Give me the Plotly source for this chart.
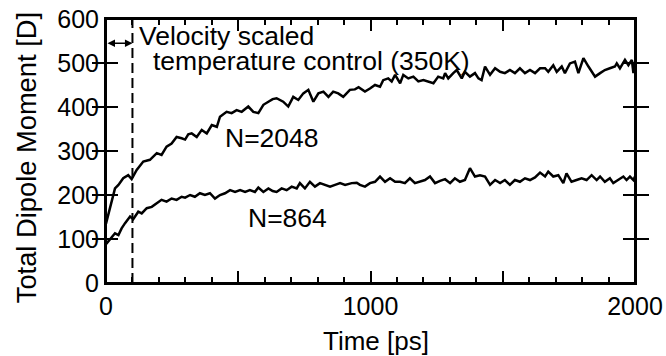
import plotly.graph_objects as go

# ---- data ----
t_2048 = [0, 34, 47, 65, 84, 97, 116, 141, 166, 192, 210, 229, 248, 267, 286, 299, 311, 324, 343,
          362, 381, 400, 419, 431, 456, 475, 494, 513, 538, 557, 576, 595, 614, 630, 645, 670, 689,
          708, 727, 746, 765, 784, 803, 822, 841, 859, 878, 897, 922, 941, 955, 979, 998, 1017,
          1036, 1048, 1067, 1080, 1093, 1112, 1124, 1143, 1162, 1181, 1200, 1219, 1238, 1256,
          1275, 1282, 1294, 1313, 1326, 1345, 1357, 1376, 1395, 1408, 1420, 1433, 1452, 1471,
          1490, 1508, 1527, 1546, 1565, 1584, 1603, 1622, 1641, 1660, 1672, 1691, 1704, 1723,
          1735, 1754, 1773, 1786, 1805, 1824, 1836, 1849, 1868, 1886, 1905, 1924, 1931, 1943,
          1962, 1975, 1988, 1994, 2000]
d_2048 = [135, 215, 223, 238, 245, 236, 257, 276, 280, 295, 291, 310, 317, 332, 329, 326, 338, 340, 332,
          348, 340, 359, 355, 378, 389, 386, 393, 389, 401, 389, 386, 405, 412, 418, 420, 412, 401,
          423, 416, 431, 439, 412, 431, 435, 423, 435, 431, 423, 439, 440, 445, 435, 442, 450,
          446, 461, 465, 458, 473, 454, 473, 465, 469, 458, 461, 458, 454, 469,
          465, 477, 465, 477, 484, 465, 480, 469, 477, 465, 461, 492, 473, 488,
          480, 477, 484, 477, 488, 477, 484, 477, 488, 488, 480, 495, 480, 492,
          477, 499, 503, 477, 511, 492, 480, 469, 477, 484, 488, 492, 499, 488,
          507, 495, 507, 477, 503]

t_864 = [0, 21, 34, 47, 59, 72, 91, 103, 122, 135, 154, 173, 192, 210, 229, 248, 267, 286, 299, 318,
         336, 355, 374, 393, 412, 431, 450, 469, 488, 507, 526, 544, 563, 576, 595, 614, 630, 645,
         664, 683, 702, 721, 733, 752, 771, 790, 809, 828, 847, 866, 885, 904, 929, 948, 960, 979,
         998, 1017, 1036, 1055, 1074, 1093, 1112, 1130, 1149, 1168, 1187, 1206, 1225, 1244, 1263,
         1282, 1301, 1319, 1338, 1357, 1376, 1395, 1414, 1433, 1452, 1471, 1490, 1508, 1527, 1546,
         1565, 1584, 1603, 1622, 1641, 1660, 1672, 1691, 1710, 1729, 1741, 1760, 1779, 1798, 1817,
         1836, 1855, 1868, 1886, 1905, 1918, 1937, 1956, 1968, 1981, 1994, 2000]
d_864 = [88, 105, 113, 109, 124, 136, 151, 145, 162, 158, 170, 173, 181, 189, 185, 192, 189, 196, 194, 200,
         196, 204, 200, 204, 192, 200, 204, 211, 207, 211, 207, 211, 207, 217, 207, 215, 209, 207,
         215, 211, 219, 215, 227, 215, 230, 219, 227, 223, 219, 223, 227, 223, 227, 228, 223, 219,
         227, 230, 242, 230, 238, 230, 230, 227, 238, 227, 230, 234, 242, 227, 232,
         236, 227, 238, 230, 234, 261, 242, 245, 242, 223, 234, 227, 234, 223, 234,
         230, 238, 234, 240, 251, 242, 253, 242, 245, 227, 249, 230, 234, 238, 234,
         245, 234, 242, 230, 238, 227, 234, 242, 234, 242, 234, 242]

x_minor_vals = list(range(0, 2001, 100))
x_minor_text = [str(v) if v % 1000 == 0 else "" for v in x_minor_vals]
x_major_vals = [0, 500, 1000, 1500, 2000]
y_tick_vals = [0, 100, 200, 300, 400, 500, 600]
y_tick_text = ["0", "100", "200", "300", "400", "500", "600"]

FONT = "Liberation Sans, Arial, sans-serif"

fig = go.Figure()
fig.add_trace(go.Scatter(x=t_2048, y=d_2048, mode="lines",
                         line=dict(color="black", width=2.5), showlegend=False))
fig.add_trace(go.Scatter(x=t_864, y=d_864, mode="lines",
                         line=dict(color="black", width=2.5), showlegend=False))
# transparent trace that activates the overlay axis carrying the long ticks
fig.add_trace(go.Scatter(x=[0, 2000], y=[0, 0], mode="lines", xaxis="x2",
                         line=dict(color="rgba(0,0,0,0)", width=1), showlegend=False, hoverinfo="skip"))

# dashed vertical line at 100 ps
fig.add_shape(type="line", xref="x", yref="y", x0=100, x1=100, y0=0, y1=600,
              line=dict(color="black", width=2, dash="10px,5px"))
# plot frame
fig.add_shape(type="rect", xref="x domain", yref="y domain", x0=0, x1=1, y0=0, y1=1,
              line=dict(color="black", width=2), layer="above")

ann_font = dict(family=FONT, size=26.5, color="black")
annotations = [
    dict(x=117, y=561, xref="x", yref="y", text="Velocity scaled", showarrow=False,
         xanchor="left", yanchor="middle", font=ann_font),
    dict(x=170, y=505, xref="x", yref="y", text="temperature control (350K)", showarrow=False,
         xanchor="left", yanchor="middle", font=ann_font),
    dict(x=443, y=330, xref="x", yref="y", text="N=2048", showarrow=False,
         xanchor="left", yanchor="middle", font=ann_font),
    dict(x=530, y=148, xref="x", yref="y", text="N=864", showarrow=False,
         xanchor="left", yanchor="middle", font=ann_font),
    # double-headed arrow spanning 0-100 ps
    dict(x=100, y=545, ax=0, ay=545, xref="x", yref="y", axref="x", ayref="y", text="",
         showarrow=True, arrowhead=2, startarrowhead=2, arrowside="end+start",
         arrowsize=1, startarrowsize=1, arrowwidth=1.5, arrowcolor="black", standoff=0, startstandoff=0),
    # axis titles
    dict(x=0.51, y=-0.22, xref="paper", yref="paper", text="Time [ps]", showarrow=False,
         xanchor="center", yanchor="middle", font=dict(family=FONT, size=26, color="black")),
    dict(x=-0.150, y=0.475, xref="paper", yref="paper", text="Total Dipole Moment [D]",
         showarrow=False, textangle=-90, xanchor="center", yanchor="middle",
         font=dict(family=FONT, size=27.3, color="black")),
]

fig.update_layout(
    width=666, height=356,
    margin=dict(l=106, r=31, t=19, b=73, autoexpand=False),
    paper_bgcolor="white", plot_bgcolor="white",
    font=dict(family=FONT, color="black"),
    annotations=annotations,
    showlegend=False,
    xaxis=dict(range=[0, 2000], tickmode="array", tickvals=x_minor_vals, ticktext=x_minor_text,
               ticks="inside", ticklen=6, tickwidth=2, tickcolor="black",
               showline=True, linecolor="black", linewidth=2, mirror="allticks",
               showgrid=False, zeroline=False, automargin=False,
               tickfont=dict(family=FONT, size=25, color="black")),
    xaxis2=dict(range=[0, 2000], overlaying="x", anchor="y", side="bottom",
                tickmode="array", tickvals=x_major_vals, showticklabels=False,
                ticks="inside", ticklen=12, tickwidth=2, tickcolor="black",
                showline=False, mirror="allticks", showgrid=False, zeroline=False, automargin=False),
    yaxis=dict(range=[0, 600], tickmode="array", tickvals=y_tick_vals, ticktext=y_tick_text,
               ticks="inside", ticklen=12, tickwidth=2, tickcolor="black",
               showline=True, linecolor="black", linewidth=2, mirror="allticks",
               showgrid=False, zeroline=False, automargin=False,
               tickfont=dict(family=FONT, size=25, color="black")),
)

fig.write_html("out.html", config={"displayModeBar": False},
               post_script="document.body.style.margin='0';")
